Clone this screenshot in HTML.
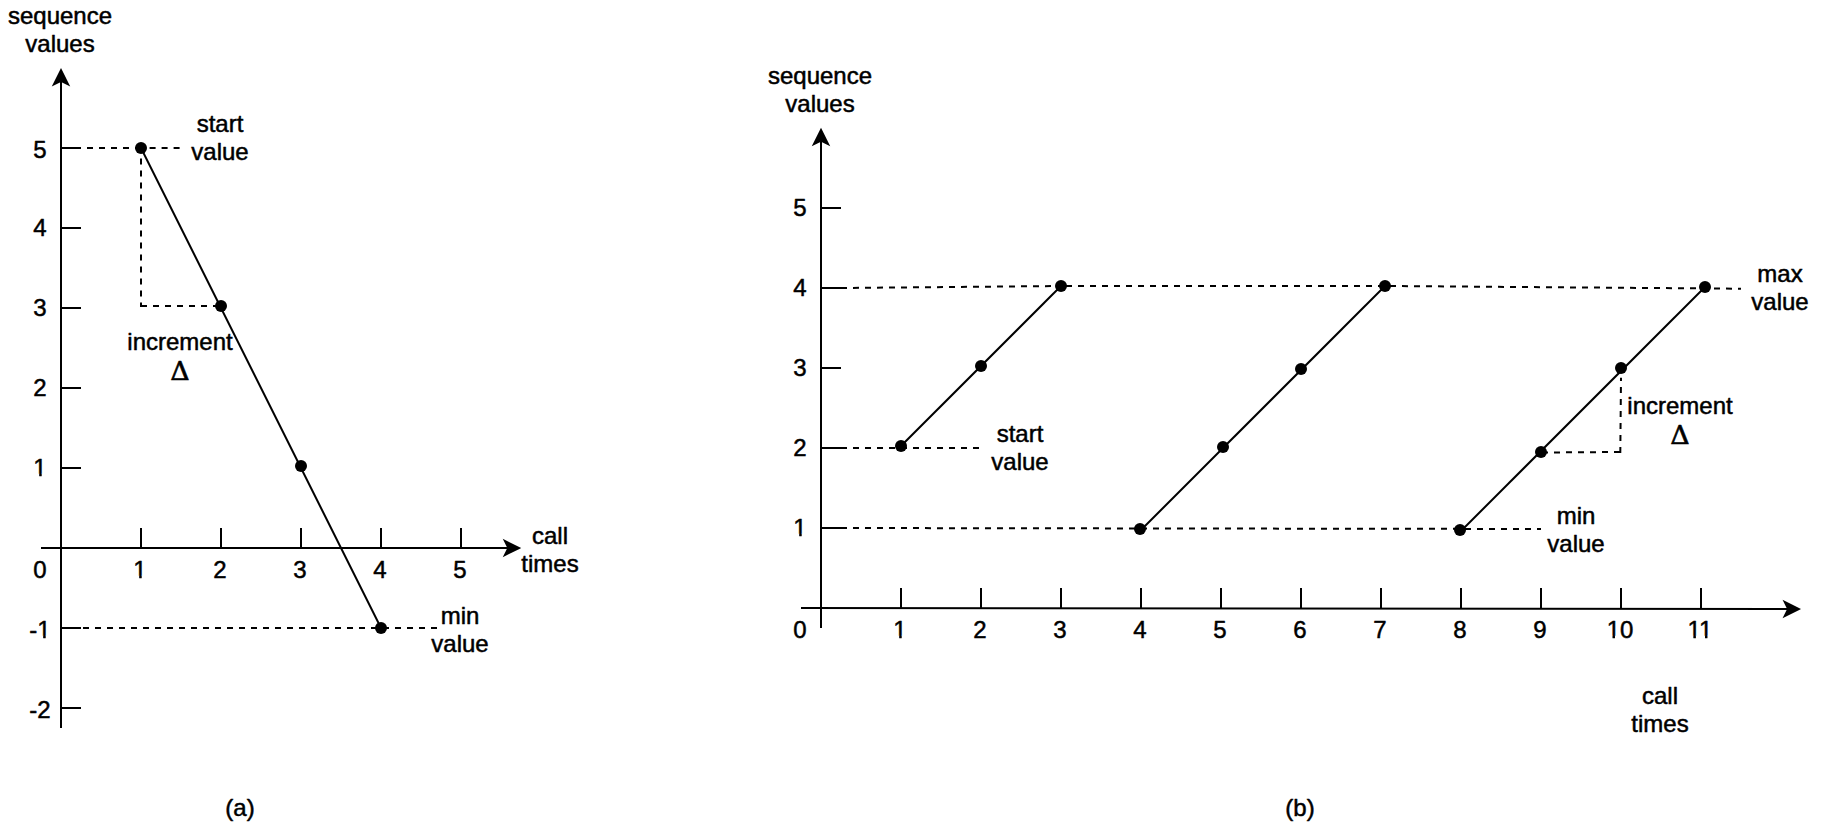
<!DOCTYPE html>
<html lang="en">
<head>
<meta charset="utf-8">
<title>Sequence values</title>
<style>
html,body{margin:0;padding:0;background:#ffffff;}
body{width:1822px;height:828px;overflow:hidden;}
svg{display:block;}
text{font-family:"Liberation Sans",Arial,Helvetica,sans-serif;font-size:24px;fill:#000;text-anchor:middle;stroke:#000;stroke-width:0.5;stroke-linejoin:round;}
.s{stroke:#000;stroke-width:2;fill:none;}
.d{stroke:#000;stroke-width:2;fill:none;stroke-dasharray:6 6;}
.a{stroke:#000;stroke-width:2;fill:#000;stroke-miterlimit:10;}
.dl{font-family:"DejaVu Serif","Liberation Serif",serif;font-size:25.4px;stroke:#000;stroke-width:0.6;}
circle{fill:#000;}
</style>
</head>
<body>
<svg width="1822" height="828" viewBox="0 0 1822 828">
<rect x="0" y="0" width="1822" height="828" fill="#ffffff"/>

<!-- chart a -->
<path class="a" d="M61 70.236 L68 84.236 L61 80.736 L54 84.236 Z"/>
<line class="s" x1="61" y1="80.736" x2="61" y2="728"/>
<path class="a" d="M518.964 548 L504.964 555 L508.464 548 L504.964 541 Z"/>
<line class="s" x1="41" y1="548" x2="508.464" y2="548"/>
<line class="s" x1="61" y1="148" x2="81" y2="148"/>
<text x="40" y="158">5</text>
<line class="s" x1="61" y1="228" x2="81" y2="228"/>
<text x="40" y="236">4</text>
<line class="s" x1="61" y1="308" x2="81" y2="308"/>
<text x="40" y="316">3</text>
<line class="s" x1="61" y1="388" x2="81" y2="388"/>
<text x="40" y="396">2</text>
<line class="s" x1="61" y1="468" x2="81" y2="468"/>
<clipPath id="c1"><rect x="31.33" y="454" width="17.35" height="19.80"/><rect x="39.22" y="473" width="2.42" height="4"/></clipPath>
<text x="40" y="476" clip-path="url(#c1)">1</text>
<line class="s" x1="61" y1="628" x2="81" y2="628"/>
<clipPath id="c2"><rect x="27.33" y="616" width="25.34" height="19.80"/><rect x="29.33" y="635" width="7.99" height="8"/><rect x="43.21" y="635" width="2.42" height="4"/></clipPath>
<text x="40" y="638" clip-path="url(#c2)">-1</text>
<line class="s" x1="61" y1="708" x2="81" y2="708"/>
<text x="40" y="718">-2</text>
<line class="s" x1="141" y1="528" x2="141" y2="548"/>
<clipPath id="c3"><rect x="131.33" y="556" width="17.35" height="19.80"/><rect x="139.22" y="575" width="2.42" height="4"/></clipPath>
<text x="140" y="578" clip-path="url(#c3)">1</text>
<line class="s" x1="221" y1="528" x2="221" y2="548"/>
<text x="220" y="578">2</text>
<line class="s" x1="301" y1="528" x2="301" y2="548"/>
<text x="300" y="578">3</text>
<line class="s" x1="381" y1="528" x2="381" y2="548"/>
<text x="380" y="578">4</text>
<line class="s" x1="461" y1="528" x2="461" y2="548"/>
<text x="460" y="578">5</text>
<text x="40" y="578">0</text>
<line class="d" x1="63" y1="148" x2="141" y2="148"/>
<line class="d" x1="137.6" y1="148" x2="180.1" y2="148"/>
<line class="d" x1="141" y1="146.4" x2="141" y2="307"/>
<line class="d" x1="141" y1="306" x2="221" y2="306"/>
<line class="d" x1="71" y1="628" x2="437" y2="628"/>
<line class="s" x1="141" y1="148" x2="381" y2="628"/>
<circle cx="141" cy="148" r="6"/>
<circle cx="221" cy="306" r="6"/>
<circle cx="301" cy="466" r="6"/>
<circle cx="381" cy="628" r="6"/>
<text x="60" y="23.5">sequence</text>
<text x="60" y="51.5">values</text>
<text x="220" y="132">start</text>
<text x="220" y="160">value</text>
<text x="180" y="350">increment</text>
<text class="dl" transform="translate(180 379.9) scale(1.06 1)" x="0" y="0">Δ</text>
<text x="550" y="544">call</text>
<text x="550" y="572">times</text>
<text x="460" y="624">min</text>
<text x="460" y="652">value</text>
<text x="240" y="816">(a)</text>
<!-- chart b -->
<path class="a" d="M821 130.036 L828 144.036 L821 140.536 L814 144.036 Z"/>
<line class="s" x1="821" y1="140.536" x2="821" y2="628"/>
<path class="a" d="M1798.76 609 L1784.76 616 L1788.26 609 L1784.76 602 Z"/>
<line class="s" x1="801" y1="608" x2="1788.3" y2="609"/>
<line class="s" x1="821" y1="208" x2="841" y2="208"/>
<text x="800" y="216">5</text>
<line class="s" x1="821" y1="288" x2="841" y2="288"/>
<text x="800" y="296">4</text>
<line class="s" x1="821" y1="368" x2="841" y2="368"/>
<text x="800" y="376">3</text>
<line class="s" x1="821" y1="448" x2="841" y2="448"/>
<text x="800" y="456">2</text>
<line class="s" x1="821" y1="528" x2="841" y2="528"/>
<clipPath id="c4"><rect x="791.33" y="514" width="17.35" height="19.80"/><rect x="799.22" y="533" width="2.42" height="4"/></clipPath>
<text x="800" y="536" clip-path="url(#c4)">1</text>
<line class="s" x1="901" y1="588" x2="901" y2="608.1"/>
<clipPath id="c5"><rect x="891.33" y="616" width="17.35" height="19.80"/><rect x="899.22" y="635" width="2.42" height="4"/></clipPath>
<text x="900" y="638" clip-path="url(#c5)">1</text>
<line class="s" x1="981" y1="588" x2="981" y2="608.18"/>
<text x="980" y="638">2</text>
<line class="s" x1="1061" y1="588" x2="1061" y2="608.26"/>
<text x="1060" y="638">3</text>
<line class="s" x1="1141" y1="588" x2="1141" y2="608.34"/>
<text x="1140" y="638">4</text>
<line class="s" x1="1221" y1="588" x2="1221" y2="608.42"/>
<text x="1220" y="638">5</text>
<line class="s" x1="1301" y1="588" x2="1301" y2="608.5"/>
<text x="1300" y="638">6</text>
<line class="s" x1="1381" y1="588" x2="1381" y2="608.58"/>
<text x="1380" y="638">7</text>
<line class="s" x1="1461" y1="588" x2="1461" y2="608.66"/>
<text x="1460" y="638">8</text>
<line class="s" x1="1541" y1="588" x2="1541" y2="608.74"/>
<text x="1540" y="638">9</text>
<line class="s" x1="1621" y1="588" x2="1621" y2="608.82"/>
<clipPath id="c6"><rect x="1604.65" y="616" width="30.70" height="19.80"/><rect x="1612.54" y="635" width="2.42" height="4"/><rect x="1620.00" y="635" width="13.35" height="8"/></clipPath>
<text x="1620" y="638" clip-path="url(#c6)">10</text>
<line class="s" x1="1701" y1="588" x2="1701" y2="608.9"/>
<clipPath id="c7"><rect x="1685.54" y="616" width="28.91" height="19.80"/><rect x="1693.43" y="635" width="2.42" height="4"/><rect x="1705.00" y="635" width="2.42" height="4"/></clipPath>
<text x="1700" y="638" clip-path="url(#c7)">11</text>
<text x="800" y="638">0</text>
<line class="d" x1="841" y1="288" x2="1061" y2="286"/>
<line class="d" x1="1066" y1="286" x2="1385" y2="286"/>
<line class="d" x1="1390" y1="286" x2="1741" y2="288.7"/>
<line class="d" x1="841" y1="448" x2="980" y2="448"/>
<line class="d" x1="841" y1="528" x2="1541" y2="529"/>
<line class="d" x1="1542" y1="452.5" x2="1620" y2="452"/>
<line class="d" x1="1620.3" y1="453" x2="1621" y2="377.7"/>
<line class="s" x1="901" y1="446" x2="1061" y2="286"/>
<line class="s" x1="1141" y1="530" x2="1385" y2="286"/>
<line class="s" x1="1462" y1="530" x2="1705" y2="287"/>
<circle cx="901" cy="446" r="6"/>
<circle cx="981" cy="366" r="6"/>
<circle cx="1061" cy="286" r="6"/>
<circle cx="1140" cy="529" r="6"/>
<circle cx="1223" cy="447" r="6"/>
<circle cx="1301" cy="369" r="6"/>
<circle cx="1385" cy="286" r="6"/>
<circle cx="1460" cy="530" r="6"/>
<circle cx="1541" cy="452" r="6"/>
<circle cx="1621" cy="368" r="6"/>
<circle cx="1705" cy="287" r="6"/>
<text x="820" y="84">sequence</text>
<text x="820" y="112">values</text>
<text x="1020" y="442">start</text>
<text x="1020" y="470">value</text>
<text x="1780" y="282">max</text>
<text x="1780" y="310">value</text>
<text x="1576" y="524">min</text>
<text x="1576" y="552">value</text>
<text x="1680" y="414">increment</text>
<text class="dl" transform="translate(1680 443.9) scale(1.06 1)" x="0" y="0">Δ</text>
<text x="1660" y="704">call</text>
<text x="1660" y="732">times</text>
<text x="1300" y="816">(b)</text>
</svg>
</body>
</html>
